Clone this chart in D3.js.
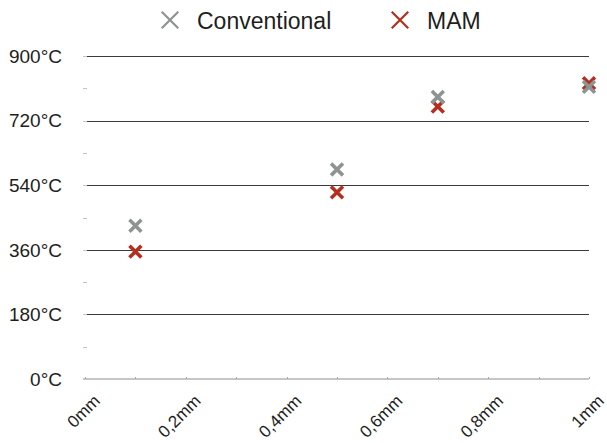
<!DOCTYPE html>
<html><head><meta charset="utf-8">
<script src="https://cdn.jsdelivr.net/npm/d3@7"></script>
<style>html,body{margin:0;padding:0;background:#fff;}svg{display:block;font-family:"Liberation Sans",Arial,sans-serif;}</style>
</head><body>
<svg id="chart" width="607" height="443"></svg>
<script>
const seriesNames = ["Conventional", "MAM"];
const seriesColors = ["#8e9393", "#b3301f"];
const xValues = [0.1, 0.5, 0.7, 1.0];
const conventional = [427, 584, 786, 814];
const mam = [355, 520, 759, 824];
const yTickValues = [0, 180, 360, 540, 720, 900];
const yMinorValues = [90, 270, 450, 630, 810];
const xTickValues = [0, 0.2, 0.4, 0.6, 0.8, 1.0];
const xTickLabels = ["0mm", "0,2mm", "0,4mm", "0,6mm", "0,8mm", "1mm"];
const xMinorValues = [0.1, 0.3, 0.5, 0.7, 0.9];

const svg = d3.select("#chart");
const x = d3.scaleLinear().domain([0, 1]).range([85, 589]);
const y = d3.scaleLinear().domain([0, 900]).range([379, 56]);

// y ticks (short gray dashes)
svg.append("g").selectAll("line").data(yTickValues.concat(yMinorValues)).join("line")
  .attr("x1", 83).attr("x2", 87)
  .attr("y1", d => Math.round(y(d)) + 0.5).attr("y2", d => Math.round(y(d)) + 0.5)
  .attr("stroke", "#c4c4c4").attr("stroke-width", 1);

// gridlines
svg.append("g").selectAll("line").data(yTickValues.filter(d => d > 0)).join("line")
  .attr("x1", 87).attr("x2", x(1))
  .attr("y1", d => Math.round(y(d)) + 0.5).attr("y2", d => Math.round(y(d)) + 0.5)
  .attr("stroke", "#3a3a3a").attr("stroke-width", 1);

// x axis line
svg.append("line").attr("x1", 83).attr("x2", x(1))
  .attr("y1", y(0)).attr("y2", y(0))
  .attr("stroke", "#c6c6c6").attr("stroke-width", 2);

// x ticks
svg.append("g").selectAll("line").data(xTickValues.concat(xMinorValues)).join("line")
  .attr("x1", d => Math.round(x(d)) + 0.5).attr("x2", d => Math.round(x(d)) + 0.5)
  .attr("y1", y(0) - 2).attr("y2", y(0))
  .attr("stroke", "#a8a8a8").attr("stroke-width", 1);

// y labels
svg.append("g").selectAll("text").data(yTickValues).join("text")
  .attr("x", 62).attr("y", d => y(d)).attr("dy", "0.36em")
  .attr("text-anchor", "end").attr("font-size", 19).attr("fill", "#1e1e1e")
  .text(d => d + "°C");

// x labels
svg.append("g").selectAll("text").data(xTickValues).join("text")
  .attr("transform", d => `translate(${x(d) + 16},${y(0) + 23}) rotate(-45)`)
  .attr("text-anchor", "end").attr("font-size", 17).attr("fill", "#1e1e1e")
  .text((d, i) => xTickLabels[i]);

// markers
const sym = d3.symbol().type(d3.symbolX).size(94);
const series = [mam, conventional];
const sIdx = [1, 0];
series.forEach((vals, k) => {
  svg.append("g").selectAll("path").data(vals).join("path")
    .attr("transform", (d, i) => `translate(${x(xValues[i])},${y(d)})`)
    .attr("d", sym())
    .attr("fill", "none").attr("stroke", seriesColors[sIdx[k]])
    .attr("stroke-width", 3.6);
});

// legend
const legendX = [170, 400];
const legSym = d3.symbol().type(d3.symbolX).size(180);
const lg = svg.append("g").selectAll("g").data(seriesNames).join("g")
  .attr("transform", (d, i) => `translate(${legendX[i]},20)`);
lg.append("path").attr("d", legSym()).attr("fill", "none")
  .attr("stroke", (d, i) => seriesColors[i]).attr("stroke-width", 2.2);
lg.append("text").attr("x", 27).attr("y", 8.5).attr("font-size", 23).attr("fill", "#1e1e1e")
  .text(d => d);
</script>
</body></html>
